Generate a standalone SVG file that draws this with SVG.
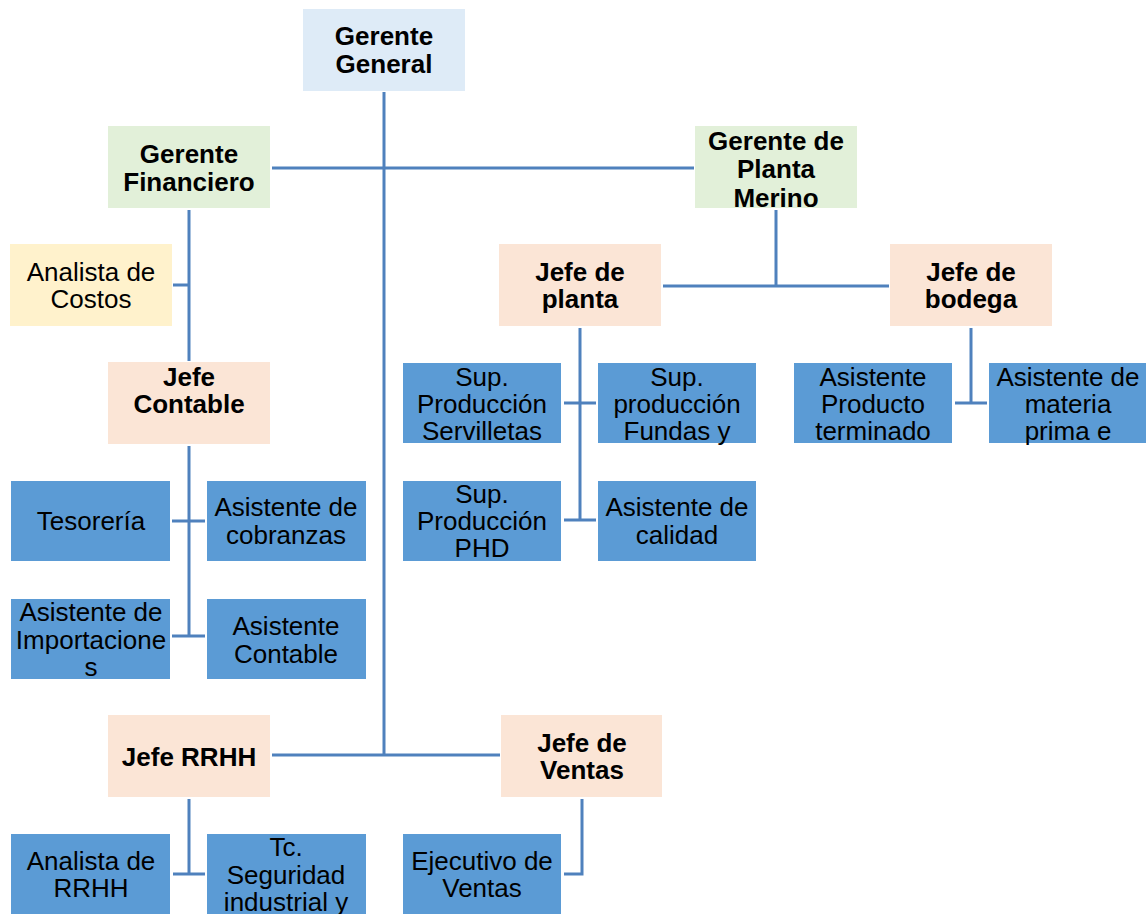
<svg xmlns="http://www.w3.org/2000/svg" width="1146" height="914" viewBox="0 0 1146 914">
<style>
.b{fill:#5b9bd5}
.pe{fill:#fbe5d6}
.t{font-family:"Liberation Sans",Arial,sans-serif;font-size:26px;fill:#000;text-anchor:middle}
.bd{font-weight:bold}
.c{stroke:#4f81bd;stroke-width:3;fill:none}
</style>
<rect width="1146" height="914" fill="#fff"/>
<g id="connectors">
<path class="c" d="M384 92V755M272 168H694M272 755H500"/>
<path class="c" d="M189 210V361M173 285H189"/>
<path class="c" d="M189 446V636M172 521H205M172 636H205"/>
<path class="c" d="M776 210V286M663 286H889"/>
<path class="c" d="M580 328V520M564 403H596M564 520H596"/>
<path class="c" d="M971 328V403M955 403H987"/>
<path class="c" d="M189 799V874M173 874H205"/>
<path class="c" d="M582 799V874H564"/>
</g>
<g id="gerente-general"><rect x="303" y="9" width="162" height="82" fill="#deebf7"/><text class="t bd" x="384"><tspan x="384" y="45">Gerente</tspan><tspan x="384" y="73">General</tspan></text></g>
<g id="gerente-financiero"><rect x="108" y="126" width="162" height="82" fill="#e2f0d9"/><text class="t bd"><tspan x="189" y="163">Gerente</tspan><tspan x="189" y="191">Financiero</tspan></text></g>
<g id="gerente-planta"><rect x="695" y="126" width="162" height="82" fill="#e2f0d9"/><text class="t bd"><tspan x="776" y="150">Gerente de</tspan><tspan x="776" y="178">Planta</tspan><tspan x="776" y="207">Merino</tspan></text></g>
<g id="analista-costos"><rect x="10" y="244" width="162" height="82" fill="#fff2cc"/><text class="t"><tspan x="91" y="281">Analista de</tspan><tspan x="91" y="308">Costos</tspan></text></g>
<g id="jefe-contable"><rect class="pe" x="108" y="362" width="162" height="82"/><text class="t bd"><tspan x="189" y="386">Jefe</tspan><tspan x="189" y="413">Contable</tspan></text></g>
<g id="jefe-planta"><rect class="pe" x="499" y="244" width="162" height="82"/><text class="t bd"><tspan x="580" y="281">Jefe de</tspan><tspan x="580" y="308">planta</tspan></text></g>
<g id="jefe-bodega"><rect class="pe" x="890" y="244" width="162" height="82"/><text class="t bd"><tspan x="971" y="281">Jefe de</tspan><tspan x="971" y="308">bodega</tspan></text></g>
<g id="sup-servilletas"><rect class="b" x="403" y="363" width="158" height="80"/><text class="t"><tspan x="482" y="386">Sup.</tspan><tspan x="482" y="413">Producción</tspan><tspan x="482" y="440">Servilletas</tspan></text></g>
<g id="sup-fundas"><rect class="b" x="598" y="363" width="158" height="80"/><text class="t"><tspan x="677" y="386">Sup.</tspan><tspan x="677" y="413">producción</tspan><tspan x="677" y="440">Fundas y</tspan></text></g>
<g id="sup-phd"><rect class="b" x="403" y="481" width="158" height="80"/><text class="t"><tspan x="482" y="503">Sup.</tspan><tspan x="482" y="530">Producción</tspan><tspan x="482" y="557">PHD</tspan></text></g>
<g id="asistente-calidad"><rect class="b" x="598" y="481" width="158" height="80"/><text class="t"><tspan x="677" y="516">Asistente de</tspan><tspan x="677" y="544">calidad</tspan></text></g>
<g id="asistente-producto"><rect class="b" x="794" y="363" width="158" height="80"/><text class="t"><tspan x="873" y="386">Asistente</tspan><tspan x="873" y="413">Producto</tspan><tspan x="873" y="440">terminado</tspan></text></g>
<g id="asistente-materia"><rect class="b" x="989" y="363" width="157" height="80"/><text class="t"><tspan x="1068" y="386">Asistente de</tspan><tspan x="1068" y="413">materia</tspan><tspan x="1068" y="440">prima e</tspan></text></g>
<g id="tesoreria"><rect class="b" x="11" y="481" width="159" height="80"/><text class="t" x="91" y="530">Tesorería</text></g>
<g id="asistente-cobranzas"><rect class="b" x="207" y="481" width="159" height="80"/><text class="t"><tspan x="286" y="516">Asistente de</tspan><tspan x="286" y="544">cobranzas</tspan></text></g>
<g id="asistente-importaciones"><rect class="b" x="11" y="599" width="159" height="80"/><text class="t"><tspan x="91" y="621">Asistente de</tspan><tspan x="91" y="649">Importacione</tspan><tspan x="91" y="676">s</tspan></text></g>
<g id="asistente-contable"><rect class="b" x="207" y="599" width="159" height="80"/><text class="t"><tspan x="286" y="635">Asistente</tspan><tspan x="286" y="663">Contable</tspan></text></g>
<g id="jefe-rrhh"><rect class="pe" x="108" y="715" width="162" height="82"/><text class="t bd" x="189" y="766">Jefe RRHH</text></g>
<g id="jefe-ventas"><rect class="pe" x="501" y="715" width="161" height="82"/><text class="t bd"><tspan x="582" y="752">Jefe de</tspan><tspan x="582" y="779">Ventas</tspan></text></g>
<g id="analista-rrhh"><rect class="b" x="11" y="834" width="159" height="80"/><text class="t"><tspan x="91" y="870">Analista de</tspan><tspan x="91" y="897">RRHH</tspan></text></g>
<g id="tc-seguridad"><rect class="b" x="207" y="834" width="159" height="80"/><text class="t"><tspan x="286" y="856">Tc.</tspan><tspan x="286" y="884">Seguridad</tspan><tspan x="286" y="911">industrial y</tspan></text></g>
<g id="ejecutivo-ventas"><rect class="b" x="403" y="834" width="158" height="80"/><text class="t"><tspan x="482" y="870">Ejecutivo de</tspan><tspan x="482" y="897">Ventas</tspan></text></g>
</svg>
